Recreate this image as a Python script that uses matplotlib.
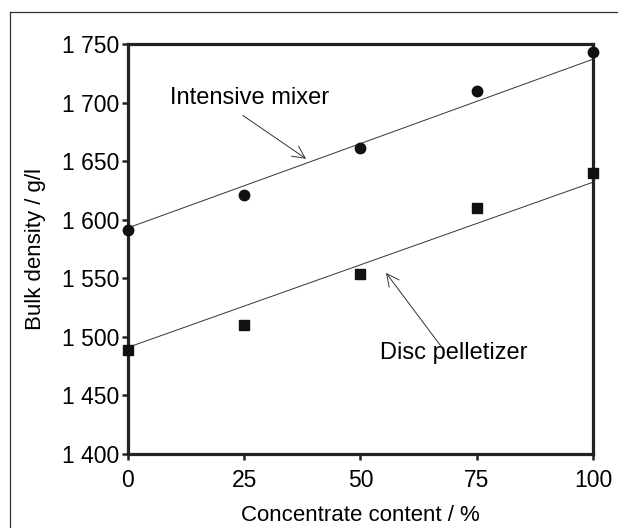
import matplotlib.pyplot as plt
from matplotlib.lines import Line2D

plt.rcParams['font.family'] = ['Liberation Sans', 'DejaVu Sans']

content = [0, 25, 50, 75, 100]
mixer = [1591, 1621, 1661, 1710, 1743]
pelletizer = [1489, 1510, 1554, 1610, 1640]

# trend lines as drawn in the original (values at 0 and 100 %)
fit_x = [0, 100]
mixer_fit = [1593, 1737]
pelletizer_fit = [1491, 1632]

yticks = [1400, 1450, 1500, 1550, 1600, 1650, 1700, 1750]
ytick_labels = ['1 400', '1 450', '1 500', '1 550', '1 600', '1 650', '1 700', '1 750']
xticks = [0, 25, 50, 75, 100]

fig = plt.figure(figsize=(6.18, 5.28), dpi=100)
ax = fig.add_axes([0.2071, 0.1402, 0.7524, 0.7765])

ax.plot(fit_x, mixer_fit, color='#333333', lw=0.7)
ax.plot(fit_x, pelletizer_fit, color='#333333', lw=0.7)
ax.plot(content, mixer, 'o', color='#111111', ms=7.5, clip_on=False, zorder=5)
ax.plot(content, pelletizer, 's', color='#111111', ms=7, clip_on=False, zorder=5)

ax.set_xlim(0, 100)
ax.set_ylim(1400, 1750)
ax.set_xticks(xticks)
ax.set_yticks(yticks)
ax.set_yticklabels(ytick_labels)
ax.tick_params(direction='out', length=4, width=1.8, labelsize=16.5, color='#222222')
ax.tick_params(axis='x', pad=7)
ax.tick_params(axis='y', pad=2)

for s in ax.spines.values():
    s.set_linewidth(2.3)
    s.set_color('#222222')

ax.set_xlabel('Concentrate content / %', fontsize=16, labelpad=9)
ax.set_ylabel('Bulk density / g/l', fontsize=16, labelpad=12)

arrow = dict(arrowstyle='->', color='#333333', lw=0.7, mutation_scale=22,
             shrinkA=0, shrinkB=0)
ax.text(9.0, 1704, 'Intensive mixer', fontsize=17, va='center', ha='left')
ax.annotate('', xy=(38.3, 1652), xytext=(24.7, 1689), arrowprops=arrow)
ax.text(54.2, 1486, 'Disc pelletizer', fontsize=17, va='center', ha='left')
ax.annotate('', xy=(55.5, 1554.6), xytext=(67.5, 1491), arrowprops=arrow)

# figure frame (only top and left visible in the cropped original)
fig.add_artist(Line2D([10 / 618, 1], [1 - 12 / 528, 1 - 12 / 528], transform=fig.transFigure,
                      color='#333333', lw=0.9))
fig.add_artist(Line2D([10 / 618, 10 / 618], [0, 1 - 12 / 528], transform=fig.transFigure,
                      color='#333333', lw=0.9))

fig.savefig('out.png', dpi=100)
